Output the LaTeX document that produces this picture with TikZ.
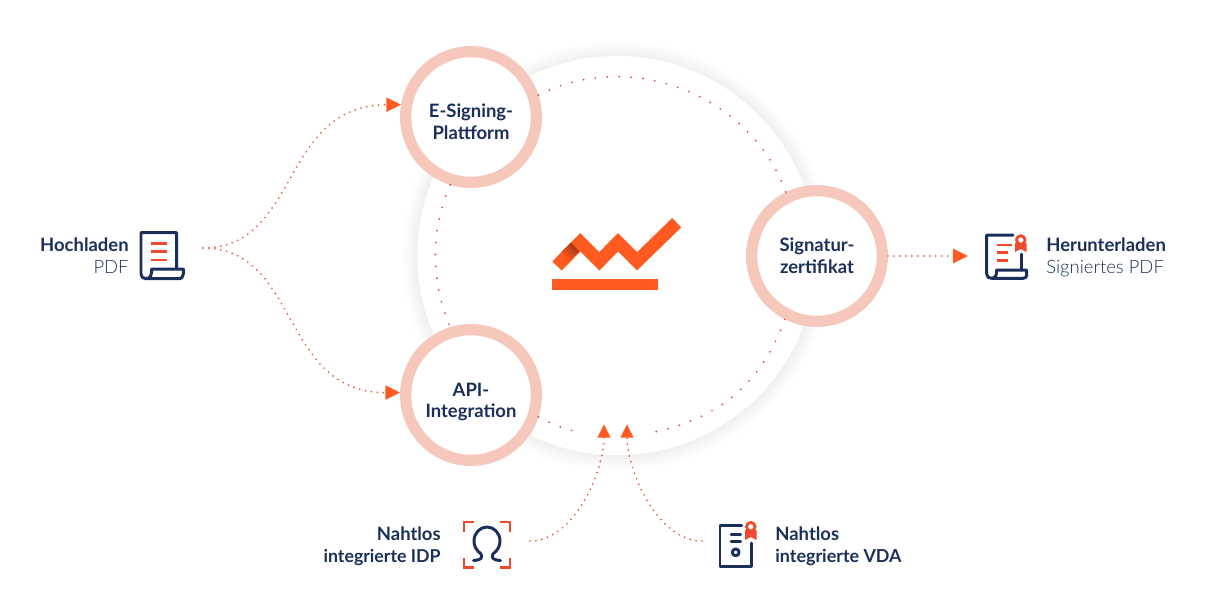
\documentclass[tikz,border=0pt]{standalone}
\usepackage{fontspec}
\setmainfont{Lato}
\newfontfamily\thinfont{Lato Light}
\usetikzlibrary{arrows.meta}
\definecolor{navy}{HTML}{1B2F5B}
\definecolor{flame}{HTML}{FF5A1F}
\definecolor{dotred}{HTML}{E8583A}
\definecolor{orbitred}{HTML}{D9403C}
\definecolor{iconred}{HTML}{F0492E}
\definecolor{ringpink}{HTML}{F6C8BC}
\tikzset{
  hub/.style={circle,draw=ringpink,line width=6.4pt,fill=white,minimum size=74.4pt,inner sep=0pt},
  hubtext/.style={inner sep=0pt,align=center,text=navy,font=\fontsize{10.5}{12.5}\selectfont\bfseries},
  caption/.style={inner sep=0pt,text=navy,font=\fontsize{10.5}{12.5}\selectfont},
  dots/.style={dotred,line width=1.1pt,line cap=round,dash pattern=on 0pt off 3.4pt},
  orbitdots/.style={orbitred,line width=1.1pt,line cap=round,dash pattern=on 0pt off 6.8pt},
  tip/.style={-{Triangle[length=8.4pt,width=8pt,fill=flame,color=flame]}},
  uptip/.style={-{Triangle[length=7.6pt,width=7.2pt,fill=flame,color=flame]}},
  iconline/.style={navy,line width=1.7pt,line join=round,line cap=round},
  iconmark/.style={iconred,line width=1.6pt}
}
\begin{document}
\begin{tikzpicture}[x=0.02cm,y=0.02cm]
	\useasboundingbox (0,0) rectangle (1205,-613);
	% soft edge of the big disc
	\foreach \rad in {214,212,...,200}
		\fill [black,opacity=0.006] (617,-256) circle (\rad);
	\fill [white] (617,-255.5) circle (199.5);
	% hubs
	\node [hub] (esign) at (471,-117) {};
	\node [hub] (api) at (471,-395) {};
	\node [hub] (signatur) at (817,-256) {};
	\node [hubtext] (esigntext) at (471,-122) {E-Signing-\\Plattform};
	\node [hubtext] (apitext) at (471,-402) {API-\\Integration};
	\node [hubtext] (signaturtext) at (817,-256) {Signatur-\\zertifikat};
	% orbit
	\coordinate (gapleft) at (580,-432.3);
	\coordinate (gapright) at (653.3,-432.3);
	\draw [orbitdots] (esign.18) to [out=27,in=110] (signatur.116);
	\draw [orbitdots] (signatur.243) to [out=250,in=12] (gapright);
	\draw [orbitdots] (api.342) to [out=332,in=168] (gapleft);
	\draw [orbitdots] (esign.253) to [out=246,in=113,looseness=0.9] (api.107);
	% logo
	\draw [flame,line width=7.4pt,miter limit=10] (557,-266) -- (580.3,-242.3) -- (599.3,-261.3) -- (618,-242.3) -- (637,-261.3) -- (676.7,-222.7);
	\shade [left color=flame!60!black,right color=flame,shading angle=-45] (571,-242.3) -- (579.3,-251.6) -- (569.3,-260.6) -- (561.6,-251.6) -- cycle;
	\fill [flame] (552.3,-279.3) rectangle (658.3,-290);
	% Hochladen
	\node [caption,align=right,anchor=east] (hochladen) at (129,-256) {\textbf{Hochladen}\\{\thinfont PDF}};
	\coordinate (fork) at (203,-248);
	\draw [iconline] (176.7,-268) -- (176.7,-232.7) -- (141,-232.7) -- (141,-274) .. controls (141,-277) and (143,-278.7) .. (146,-278.7) -- (178.3,-278.7) .. controls (181.5,-278.7) and (183.3,-277) .. (183.3,-274) -- (183.3,-269) -- (151.7,-269) .. controls (151.7,-274) and (151,-278.7) .. (146,-278.7);
	\draw [iconmark] (150.7,-243.3) -- (167.3,-243.3);
	\draw [iconmark] (150.7,-251.7) -- (167.3,-251.7);
	\draw [iconmark] (150.7,-260) -- (167.3,-260);
	\draw [dots,tip] (fork) .. controls (300,-248) and (280,-105) .. (esign.170);
	\draw [dots,tip] (fork) .. controls (300,-248) and (280,-393) .. (api.178);
	% Herunterladen
	\node [caption,align=left,anchor=west] (herunterladen) at (1046,-257) {\textbf{Herunterladen}\\{\thinfont Signiertes PDF}};
	\coordinate (outgoing) at (968,-256);
	\draw [dots,tip] (signatur.east) -- (outgoing);
	\draw [iconline] (1013,-235) -- (986.7,-235) -- (986.7,-274) .. controls (986.7,-277) and (988.7,-278.3) .. (991.7,-278.3) -- (1023.3,-278.3) .. controls (1025.5,-278.3) and (1026.7,-277) .. (1026.7,-275) -- (1026.7,-270) -- (996.7,-270) .. controls (996.7,-274) and (996,-278.3) .. (991.7,-278.3);
	\draw [iconline] (1021.7,-254) -- (1021.7,-270);
	\draw [iconmark] (996.7,-245) -- (1011.7,-245);
	\draw [iconmark] (996.7,-252.7) -- (1008,-252.7);
	\draw [iconmark] (996.7,-260.7) -- (1008,-260.7);
	\fill [iconred] (1015,-243) -- (1026.7,-243) -- (1026.7,-252) -- (1020.8,-249) -- (1015,-252) -- cycle;
	\draw [iconred,fill=white,line width=1.6pt] (1020.8,-240) circle (4.3);
	% IDP
	\node [caption,align=right,anchor=east] (idp) at (441,-546) {\textbf{Nahtlos}\\{\fontsize{10.1}{12.5}\selectfont\textbf{integrierte IDP}}};
	\draw [iconmark] (464,-532) -- (464,-522) -- (474,-522);
	\draw [iconmark] (500,-522) -- (510,-522) -- (510,-532);
	\draw [iconmark] (510,-558) -- (510,-567.5) -- (500,-567.5);
	\draw [iconmark] (474,-567.5) -- (464,-567.5) -- (464,-558);
	\draw [iconline] (473.5,-560.5) .. controls (481,-560) and (483,-558) .. (481,-554) .. controls (476,-550) and (474,-546) .. (474,-541) .. controls (474,-533) and (480,-527) .. (487,-527) .. controls (494,-527) and (500,-533) .. (500,-541) .. controls (500,-546) and (498,-550) .. (493,-554) .. controls (491,-558) and (493,-560) .. (500.5,-560.5);
	\coordinate (idpstart) at (530,-541);
	\coordinate (idptip) at (604,-424.3);
	\draw [dots,uptip] (idpstart) .. controls (575,-541) and (604,-470) .. (idptip);
	% VDA
	\node [caption,align=left,anchor=west] (vda) at (775,-546) {\textbf{Nahtlos}\\{\fontsize{10.2}{12.5}\selectfont\textbf{integrierte VDA}}};
	\draw [iconline] (741.7,-525) -- (720,-525) -- (720,-566.7) -- (751.7,-566.7) -- (751.7,-543);
	\draw [iconline] (731,-534.3) -- (740.7,-534.3);
	\draw [iconline] (731,-541.7) -- (740.7,-541.7);
	\draw [iconline] (735.7,-552.3) circle (3.4);
	\fill [iconred] (745,-530) -- (756.7,-530) -- (756.7,-540) -- (750.8,-537) -- (745,-540) -- cycle;
	\draw [iconred,fill=white,line width=1.6pt] (750.8,-526.7) circle (4.3);
	\coordinate (vdastart) at (702,-541);
	\coordinate (vdatip) at (627,-424.3);
	\draw [dots,uptip] (vdastart) .. controls (657,-541) and (627,-470) .. (vdatip);
\end{tikzpicture}
\end{document}
